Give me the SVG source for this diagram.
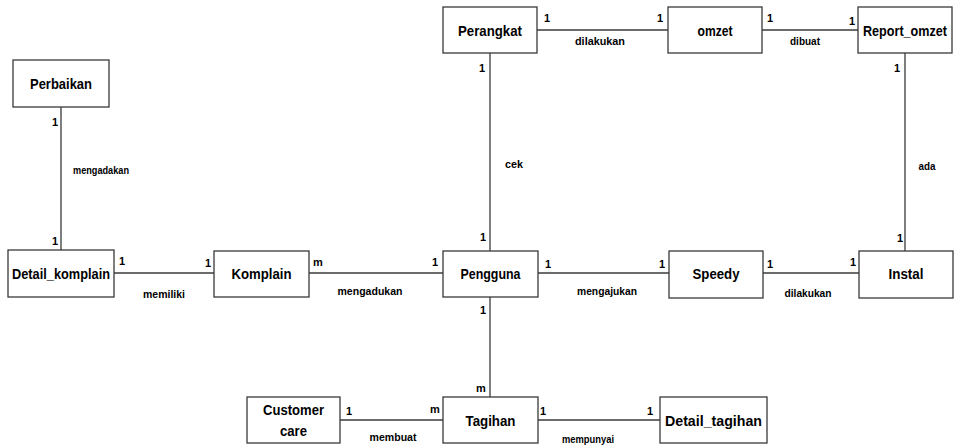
<svg xmlns="http://www.w3.org/2000/svg" width="955" height="445" viewBox="0 0 955 445">
  <style>
    .box { fill: #ffffff; stroke: #3a3a3a; stroke-width: 1.3; }
    .name { font-family: "Liberation Sans", Arial, sans-serif; font-weight: bold; font-size: 15px; fill: #000; text-anchor: middle; }
    .rel { font-family: "Liberation Sans", Arial, sans-serif; font-weight: bold; font-size: 11px; fill: #000; text-anchor: middle; }
    .card { font-family: "Liberation Sans", Arial, sans-serif; font-weight: bold; font-size: 11px; fill: #000; text-anchor: middle; }
    .link { stroke: #3a3a3a; stroke-width: 1.3; fill: none; }
  </style>
  <rect width="955" height="445" fill="#ffffff"/>

  <!-- relationship lines -->
  <g id="connectors">
    <line class="link" x1="61" y1="107" x2="61" y2="250"/>
    <line class="link" x1="114" y1="273" x2="214" y2="273"/>
    <line class="link" x1="309" y1="273" x2="443" y2="273"/>
    <line class="link" x1="538" y1="273" x2="669" y2="273"/>
    <line class="link" x1="763" y1="273" x2="859" y2="273"/>
    <line class="link" x1="490" y1="53" x2="490" y2="251"/>
    <line class="link" x1="537" y1="30" x2="668" y2="30"/>
    <line class="link" x1="762" y1="30" x2="858" y2="30"/>
    <line class="link" x1="905" y1="53" x2="905" y2="251"/>
    <line class="link" x1="490" y1="297" x2="490" y2="397"/>
    <line class="link" x1="340" y1="420" x2="443" y2="420"/>
    <line class="link" x1="538" y1="420" x2="660" y2="420"/>

    <!-- relationship names -->
    <text class="rel" x="101" y="174" textLength="56" lengthAdjust="spacingAndGlyphs">mengadakan</text>
    <text class="rel" x="164" y="298" textLength="42" lengthAdjust="spacingAndGlyphs">memiliki</text>
    <text class="rel" x="370" y="295" textLength="65" lengthAdjust="spacingAndGlyphs">mengadukan</text>
    <text class="rel" x="607" y="295" textLength="60" lengthAdjust="spacingAndGlyphs">mengajukan</text>
    <text class="rel" x="808" y="297" textLength="47" lengthAdjust="spacingAndGlyphs">dilakukan</text>
    <text class="rel" x="600" y="45" textLength="50" lengthAdjust="spacingAndGlyphs">dilakukan</text>
    <text class="rel" x="805" y="45" textLength="30" lengthAdjust="spacingAndGlyphs">dibuat</text>
    <text class="rel" x="514" y="168" textLength="18" lengthAdjust="spacingAndGlyphs">cek</text>
    <text class="rel" x="927" y="170" textLength="17" lengthAdjust="spacingAndGlyphs">ada</text>
    <text class="rel" x="393" y="441" textLength="47" lengthAdjust="spacingAndGlyphs">membuat</text>
    <text class="rel" x="588" y="443" textLength="52" lengthAdjust="spacingAndGlyphs">mempunyai</text>

    <!-- cardinalities -->
    <text class="card" x="55" y="126">1</text>
    <text class="card" x="55" y="245">1</text>
    <text class="card" x="122" y="265">1</text>
    <text class="card" x="208" y="267">1</text>
    <text class="card" x="318" y="266">m</text>
    <text class="card" x="435" y="266">1</text>
    <text class="card" x="483" y="241">1</text>
    <text class="card" x="483" y="314">1</text>
    <text class="card" x="548" y="268">1</text>
    <text class="card" x="662" y="268">1</text>
    <text class="card" x="770" y="268">1</text>
    <text class="card" x="853" y="266">1</text>
    <text class="card" x="900" y="242">1</text>
    <text class="card" x="547" y="22">1</text>
    <text class="card" x="660" y="22">1</text>
    <text class="card" x="770" y="22">1</text>
    <text class="card" x="852" y="25">1</text>
    <text class="card" x="482" y="72">1</text>
    <text class="card" x="897" y="72">1</text>
    <text class="card" x="481" y="392">m</text>
    <text class="card" x="349" y="415">1</text>
    <text class="card" x="435" y="413">m</text>
    <text class="card" x="543" y="415">1</text>
    <text class="card" x="650" y="415">1</text>
  </g>

  <!-- entities -->
  <g id="perbaikan">
    <rect class="box" x="13" y="60" width="96" height="47"/>
    <text class="name" x="61" y="89" textLength="62" lengthAdjust="spacingAndGlyphs">Perbaikan</text>
  </g>
  <g id="detail_komplain">
    <rect class="box" x="8" y="250" width="106" height="47"/>
    <text class="name" x="61" y="279" textLength="98" lengthAdjust="spacingAndGlyphs">Detail_komplain</text>
  </g>
  <g id="komplain">
    <rect class="box" x="214" y="251" width="95" height="46"/>
    <text class="name" x="261.5" y="279" textLength="60" lengthAdjust="spacingAndGlyphs">Komplain</text>
  </g>
  <g id="pengguna">
    <rect class="box" x="443" y="251" width="95" height="46"/>
    <text class="name" x="490.5" y="279" textLength="60" lengthAdjust="spacingAndGlyphs">Pengguna</text>
  </g>
  <g id="speedy">
    <rect class="box" x="669" y="251" width="94" height="47"/>
    <text class="name" x="716" y="279" textLength="47" lengthAdjust="spacingAndGlyphs">Speedy</text>
  </g>
  <g id="instal">
    <rect class="box" x="859" y="251" width="94" height="47"/>
    <text class="name" x="906" y="279" textLength="35" lengthAdjust="spacingAndGlyphs">Instal</text>
  </g>
  <g id="perangkat">
    <rect class="box" x="443" y="7" width="94" height="46"/>
    <text class="name" x="490" y="36" textLength="64" lengthAdjust="spacingAndGlyphs">Perangkat</text>
  </g>
  <g id="omzet">
    <rect class="box" x="668" y="7" width="94" height="46"/>
    <text class="name" x="715" y="36" textLength="35" lengthAdjust="spacingAndGlyphs">omzet</text>
  </g>
  <g id="report_omzet">
    <rect class="box" x="858" y="7" width="94" height="46"/>
    <text class="name" x="905" y="36" textLength="84" lengthAdjust="spacingAndGlyphs">Report_omzet</text>
  </g>
  <g id="customer_care">
    <rect class="box" x="247" y="397" width="93" height="46"/>
    <text class="name" x="293.5" y="415" textLength="61" lengthAdjust="spacingAndGlyphs">Customer</text>
    <text class="name" x="293.5" y="436" textLength="27" lengthAdjust="spacingAndGlyphs">care</text>
  </g>
  <g id="tagihan">
    <rect class="box" x="443" y="397" width="95" height="46"/>
    <text class="name" x="490.5" y="426" textLength="50" lengthAdjust="spacingAndGlyphs">Tagihan</text>
  </g>
  <g id="detail_tagihan">
    <rect class="box" x="660" y="397" width="107" height="46"/>
    <text class="name" x="713.5" y="426" textLength="97" lengthAdjust="spacingAndGlyphs">Detail_tagihan</text>
  </g>
</svg>
